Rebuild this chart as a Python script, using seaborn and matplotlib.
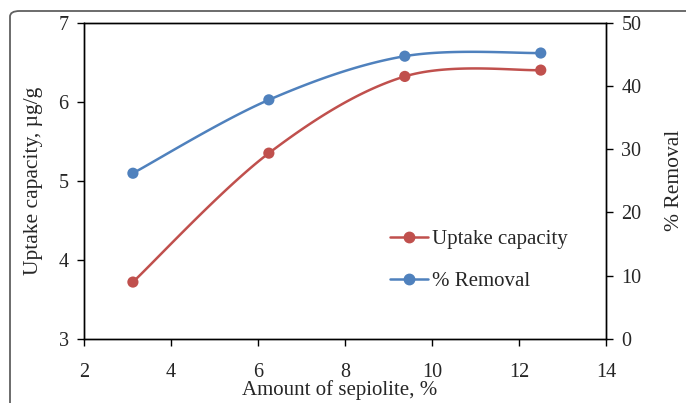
import matplotlib.pyplot as plt
import numpy as np
import pandas as pd
import seaborn as sns
from matplotlib.lines import Line2D
from matplotlib.patches import FancyBboxPatch

# Data
sepiolite = [3.125, 6.25, 9.375, 12.5]
uptake = [3.72, 5.35, 6.32, 6.40]
removal = [26.2, 37.8, 44.7, 45.2]

red = '#C0504D'
blue = '#4F81BD'


def smooth(xs, ys, n=40):
    # Excel-style smoothed line: cubic Bezier through the points
    p = np.column_stack([xs, ys]).astype(float)
    pad = np.vstack([p[0], p, p[-1]])
    out = []
    for i in range(len(p) - 1):
        p0, p3 = p[i], p[i + 1]
        c1 = p0 + (pad[i + 2] - pad[i]) / 6
        c2 = p3 - (pad[i + 3] - pad[i + 1]) / 6
        t = np.linspace(0, 1, n)[:, None]
        seg = (1 - t) ** 3 * p0 + 3 * (1 - t) ** 2 * t * c1 + 3 * (1 - t) * t ** 2 * c2 + t ** 3 * p3
        out.append(seg)
    curve = np.vstack(out)
    return pd.DataFrame({'x': curve[:, 0], 'y': curve[:, 1]})


sns.set_style('white')
plt.rcParams['font.family'] = ['Liberation Serif', 'DejaVu Serif']
plt.rcParams['font.size'] = 14

fig = plt.figure(figsize=(6.86, 4.03), dpi=100)
ax = fig.add_axes([0.1224, 0.1588, 0.761, 0.785])
ax2 = ax.twinx()

df = pd.DataFrame({'x': sepiolite, 'uptake': uptake, 'removal': removal})

sns.lineplot(data=smooth(sepiolite, uptake), x='x', y='y', sort=False, ax=ax,
             color=red, linewidth=1.8)
sns.scatterplot(data=df, x='x', y='uptake', ax=ax, color=red, s=65,
                edgecolor='none', zorder=3)
sns.lineplot(data=smooth(sepiolite, removal), x='x', y='y', sort=False, ax=ax2,
             color=blue, linewidth=1.8)
sns.scatterplot(data=df, x='x', y='removal', ax=ax2, color=blue, s=65,
                edgecolor='none', zorder=3)

ax.set_xlim(2, 14)
ax.set_ylim(3, 7)
ax2.set_ylim(0, 50)
ax.set_xticks(range(2, 15, 2))
ax.set_yticks(range(3, 8))
ax2.set_yticks(range(0, 51, 10))

ax.set_xlabel('Amount of sepiolite, %', labelpad=-1, fontsize=15)
ax.xaxis.label.set_x(0.49)
ax.set_ylabel('Uptake capacity, µg/g', labelpad=11, fontsize=15.5)
ax2.set_ylabel('% Removal', labelpad=17, fontsize=15.5)

for a in (ax, ax2):
    for s in a.spines.values():
        s.set_color('black')
        s.set_linewidth(1.0)
    a.tick_params(direction='out', length=5, width=1, color='black', pad=6,
                  labelsize=14.5)
ax.tick_params(axis='x', bottom=True, pad=12)
ax.tick_params(axis='y', left=True)
ax2.tick_params(axis='y', right=True)

handles = [
    Line2D([], [], color=red, lw=1.8, marker='o', markersize=7.5),
    Line2D([], [], color=blue, lw=1.8, marker='o', markersize=7.5),
]
ax2.legend(handles, ['Uptake capacity', '% Removal'], loc='upper left',
           bbox_to_anchor=(0.551, 0.405), frameon=False, fontsize=15,
           handlelength=1.8, handletextpad=0.2, labelspacing=1.07)

# rounded frame of the source panel
frame = FancyBboxPatch((10 / 686, -0.2), 1.2, 1.2 - 11 / 403,
                       boxstyle='round,pad=0,rounding_size=0.014',
                       transform=fig.transFigure, fill=False,
                       edgecolor='#606060', linewidth=1.3, clip_on=False)
fig.patches.append(frame)

fig.savefig('out.png', dpi=100)
